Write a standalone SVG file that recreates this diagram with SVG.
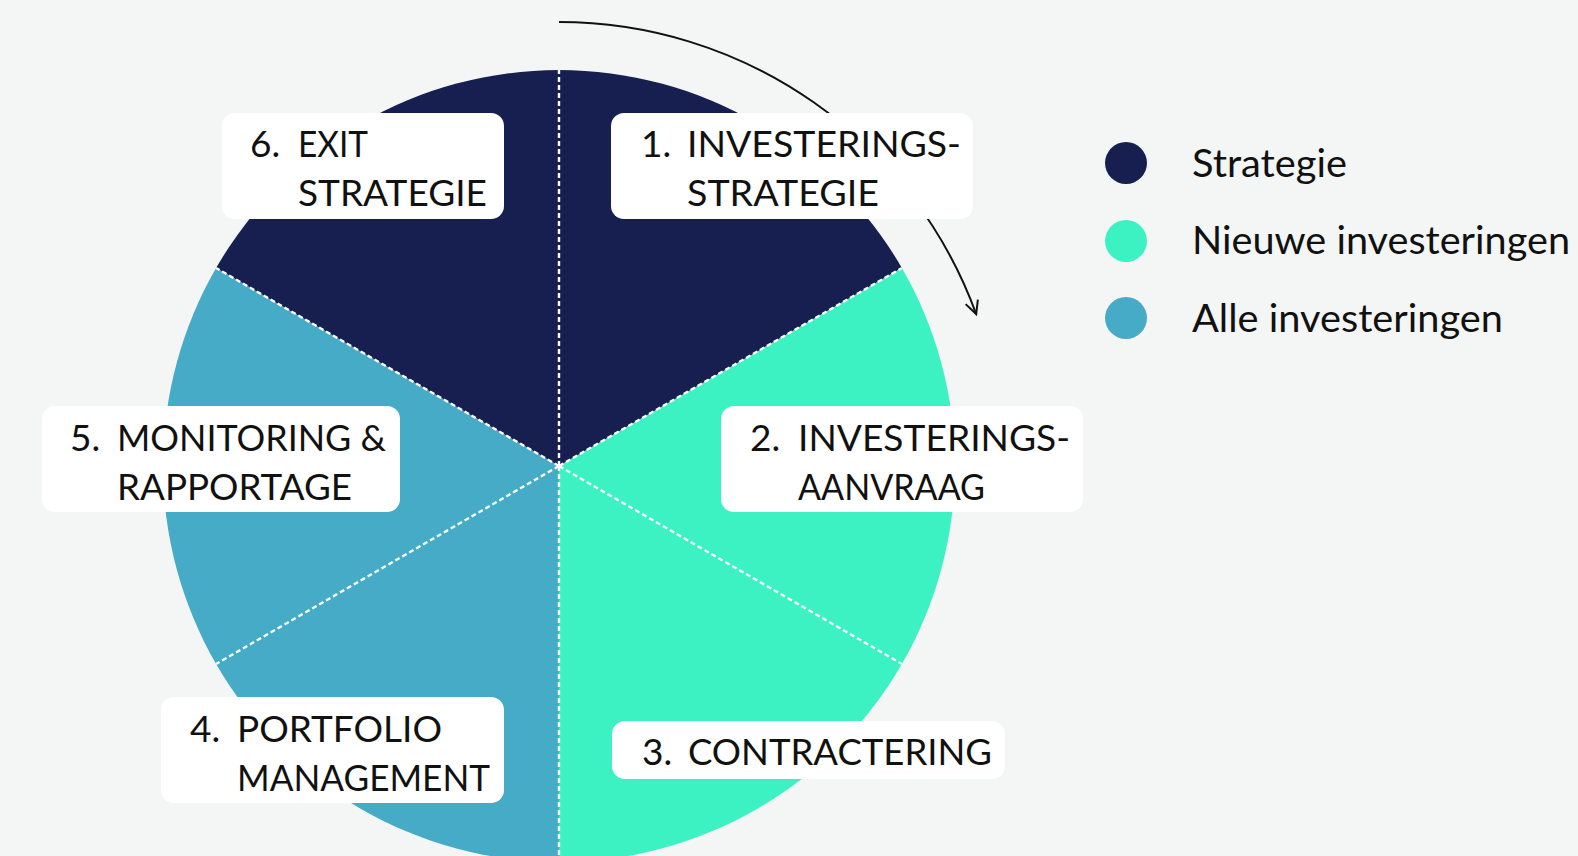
<svg xmlns="http://www.w3.org/2000/svg" width="1578" height="856" viewBox="0 0 1578 856">
<defs>
<style>
.bg{fill:#F4F6F5}
.navy{fill:#171F50}
.teal{fill:#3DF2C2}
.blue{fill:#46ABC6}
.div{stroke:#FFFFFF;stroke-width:2.4;stroke-dasharray:5 3;fill:none}
.box{fill:#FFFFFF}
.t{font-family:Lato,"Liberation Sans",sans-serif;font-size:37px;fill:#111111}
.lg{font-family:Lato,"Liberation Sans",sans-serif;font-size:38px;fill:#111111}
.arc{stroke:#111111;stroke-width:2;fill:none}
</style>
<marker id="ah" viewBox="0 0 16 16" refX="14" refY="8" markerWidth="16" markerHeight="16" markerUnits="userSpaceOnUse" orient="auto">
<path d="M1,1.5 L14,8 L1,14.5" fill="none" stroke="#111111" stroke-width="2"/>
</marker>
</defs>
<rect class="bg" x="0" y="0" width="1578" height="856"/>
<g id="wheel">
<path class="navy" d="M559,466 L216.1,268 A396,396 0 0 1 901.9,268 Z"/>
<path class="teal" d="M559,466 L901.9,268 A396,396 0 0 1 559,862 Z"/>
<path class="blue" d="M559,466 L559,862 A396,396 0 0 1 216.1,268 Z"/>
</g>
<g id="connectors">
<path class="div" d="M559,466 L559,70"/>
<path class="div" d="M559,466 L901.9,268"/>
<path class="div" d="M559,466 L901.9,664"/>
<path class="div" d="M559,466 L559,862"/>
<path class="div" d="M559,466 L216.1,664"/>
<path class="div" d="M559,466 L216.1,268"/>
<path class="arc" d="M559,22 A444,444 0 0 1 976.2,314.1" marker-end="url(#ah)"/>
</g>
<g id="step1">
<rect class="box" x="611" y="113" width="362" height="106" rx="13"/>
<text class="t" x="641" y="157">1.</text>
<text class="t" x="687" y="157" textLength="274" lengthAdjust="spacingAndGlyphs">INVESTERINGS-</text>
<text class="t" x="687" y="206" textLength="192" lengthAdjust="spacingAndGlyphs">STRATEGIE</text>
</g>
<g id="step2">
<rect class="box" x="721" y="406" width="362" height="106" rx="13"/>
<text class="t" x="750" y="451">2.</text>
<text class="t" x="798" y="451" textLength="272" lengthAdjust="spacingAndGlyphs">INVESTERINGS-</text>
<text class="t" x="798" y="500" textLength="187" lengthAdjust="spacingAndGlyphs">AANVRAAG</text>
</g>
<g id="step3">
<rect class="box" x="612" y="721" width="393" height="58" rx="13"/>
<text class="t" x="642" y="765">3.</text>
<text class="t" x="688" y="765" textLength="304" lengthAdjust="spacingAndGlyphs">CONTRACTERING</text>
</g>
<g id="step4">
<rect class="box" x="161" y="697" width="343" height="106" rx="13"/>
<text class="t" x="190" y="742">4.</text>
<text class="t" x="237" y="742" textLength="205" lengthAdjust="spacingAndGlyphs">PORTFOLIO</text>
<text class="t" x="237" y="791" textLength="253" lengthAdjust="spacingAndGlyphs">MANAGEMENT</text>
</g>
<g id="step5">
<rect class="box" x="42" y="406" width="358" height="106" rx="13"/>
<text class="t" x="70" y="451">5.</text>
<text class="t" x="117" y="451" textLength="269" lengthAdjust="spacingAndGlyphs">MONITORING &amp;</text>
<text class="t" x="117" y="500" textLength="235" lengthAdjust="spacingAndGlyphs">RAPPORTAGE</text>
</g>
<g id="step6">
<rect class="box" x="222" y="113" width="282" height="106" rx="13"/>
<text class="t" x="250" y="157">6.</text>
<text class="t" x="298" y="157" textLength="70" lengthAdjust="spacingAndGlyphs">EXIT</text>
<text class="t" x="298" y="206" textLength="189" lengthAdjust="spacingAndGlyphs">STRATEGIE</text>
</g>
<g id="legend">
<circle class="navy" cx="1126" cy="163" r="21"/>
<text class="lg" x="1192" y="177" textLength="155" lengthAdjust="spacingAndGlyphs">Strategie</text>
<circle class="teal" cx="1126" cy="241" r="21"/>
<text class="lg" x="1192" y="254" textLength="378" lengthAdjust="spacingAndGlyphs">Nieuwe investeringen</text>
<circle class="blue" cx="1126" cy="318" r="21"/>
<text class="lg" x="1192" y="332" textLength="311" lengthAdjust="spacingAndGlyphs">Alle investeringen</text>
</g>
</svg>
